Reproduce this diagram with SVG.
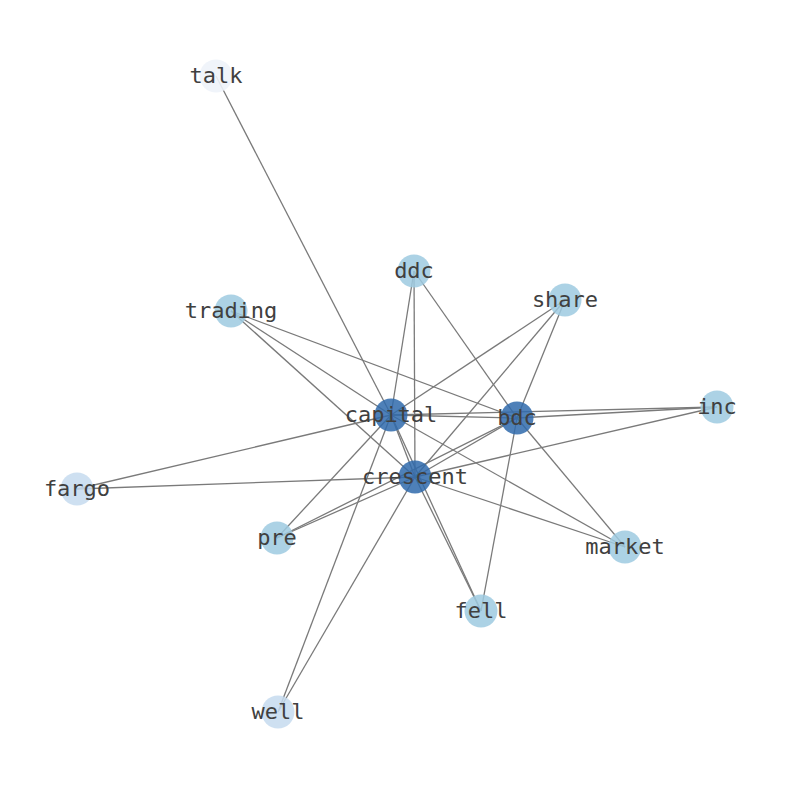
<svg xmlns="http://www.w3.org/2000/svg" width="794" height="790" viewBox="0 0 794 790">
<style>
.e{stroke:#7a7a7a;stroke-width:1.3;fill:none}
.n{stroke:none}
.d{fill:#2f6aab;fill-opacity:0.85}
.m{fill:#9ecae1;fill-opacity:0.85}
.l{fill:#c6dbef;fill-opacity:0.85}
.t{fill:#eef3fa;fill-opacity:0.9}
text{font-family:"DejaVu Sans Mono",monospace;font-size:22px;fill:#404040;text-anchor:middle;dominant-baseline:central}
</style>
<rect width="794" height="790" fill="#ffffff"/>
<g id="edges">
<line class="e" x1="216" y1="76" x2="391" y2="415"/>
<line class="e" x1="414" y1="271" x2="391" y2="415"/>
<line class="e" x1="414" y1="271" x2="415" y2="477"/>
<line class="e" x1="414" y1="271" x2="517" y2="418"/>
<line class="e" x1="565" y1="300" x2="391" y2="415"/>
<line class="e" x1="565" y1="300" x2="415" y2="477"/>
<line class="e" x1="565" y1="300" x2="517" y2="418"/>
<line class="e" x1="231" y1="311" x2="391" y2="415"/>
<line class="e" x1="231" y1="311" x2="415" y2="477"/>
<line class="e" x1="231" y1="311" x2="517" y2="418"/>
<line class="e" x1="717" y1="407" x2="391" y2="415"/>
<line class="e" x1="717" y1="407" x2="517" y2="418"/>
<line class="e" x1="717" y1="407" x2="415" y2="477"/>
<line class="e" x1="391" y1="415" x2="517" y2="418"/>
<line class="e" x1="391" y1="415" x2="415" y2="477"/>
<line class="e" x1="415" y1="477" x2="517" y2="418"/>
<line class="e" x1="77" y1="489" x2="391" y2="415"/>
<line class="e" x1="77" y1="489" x2="415" y2="477"/>
<line class="e" x1="277" y1="538" x2="391" y2="415"/>
<line class="e" x1="277" y1="538" x2="415" y2="477"/>
<line class="e" x1="277" y1="538" x2="517" y2="418"/>
<line class="e" x1="625" y1="547" x2="391" y2="415"/>
<line class="e" x1="625" y1="547" x2="415" y2="477"/>
<line class="e" x1="625" y1="547" x2="517" y2="418"/>
<line class="e" x1="481" y1="611" x2="391" y2="415"/>
<line class="e" x1="481" y1="611" x2="415" y2="477"/>
<line class="e" x1="481" y1="611" x2="517" y2="418"/>
<line class="e" x1="278" y1="712" x2="391" y2="415"/>
<line class="e" x1="278" y1="712" x2="415" y2="477"/>
</g>
<g id="node-talk"><circle class="n t" cx="216" cy="76" r="16.5"/><text x="216" y="75">talk</text></g>
<g id="node-ddc"><circle class="n m" cx="414" cy="271" r="16.5"/><text x="414" y="270">ddc</text></g>
<g id="node-share"><circle class="n m" cx="565" cy="300" r="16.5"/><text x="565" y="299">share</text></g>
<g id="node-trading"><circle class="n m" cx="231" cy="311" r="16.5"/><text x="231" y="310">trading</text></g>
<g id="node-inc"><circle class="n m" cx="717" cy="407" r="16.5"/><text x="717" y="406">inc</text></g>
<g id="node-capital"><circle class="n d" cx="391" cy="415" r="16.5"/><text x="391" y="414">capital</text></g>
<g id="node-bdc"><circle class="n d" cx="517" cy="418" r="16.5"/><text x="517" y="417">bdc</text></g>
<g id="node-fargo"><circle class="n l" cx="77" cy="489" r="16.5"/><text x="77" y="488">fargo</text></g>
<g id="node-crescent"><circle class="n d" cx="415" cy="477" r="16.5"/><text x="415" y="476">crescent</text></g>
<g id="node-pre"><circle class="n m" cx="277" cy="538" r="16.5"/><text x="277" y="537">pre</text></g>
<g id="node-market"><circle class="n m" cx="625" cy="547" r="16.5"/><text x="625" y="546">market</text></g>
<g id="node-fell"><circle class="n m" cx="481" cy="611" r="16.5"/><text x="481" y="610">fell</text></g>
<g id="node-well"><circle class="n l" cx="278" cy="712" r="16.5"/><text x="278" y="711">well</text></g>
</svg>
